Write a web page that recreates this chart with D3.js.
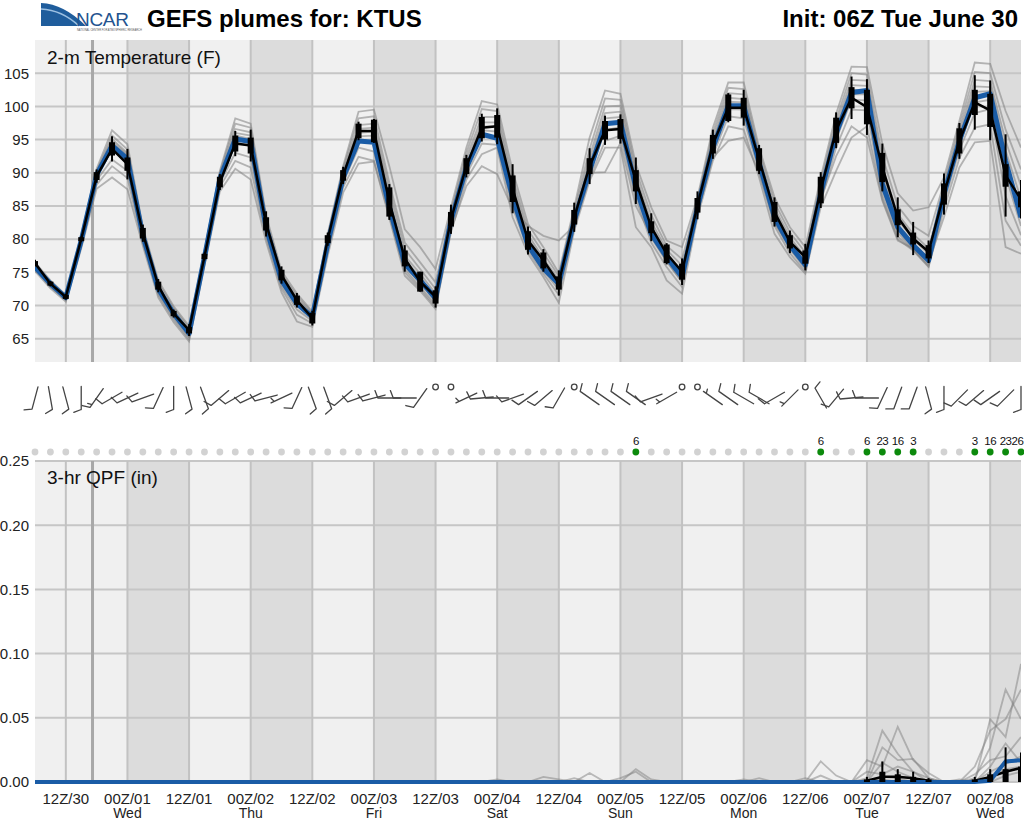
<!DOCTYPE html>
<html>
<head>
<meta charset="utf-8">
<script src="https://cdn.jsdelivr.net/npm/d3@7"></script>
<style>
body { margin: 0; background: #fff; font-family: "Liberation Sans", Arial, sans-serif; }
svg { display: block; }
</style>
</head>
<body>
<script>
// forecast hours, every 3 h from init (06Z Tue June 30)
var hours = d3.range(0, 193, 3);

// x axis labels (every 12 h starting 12Z/30) and day names under the 00Z ticks
var tickLabels = ["12Z/30","00Z/01","12Z/01","00Z/02","12Z/02","00Z/03","12Z/03","00Z/04",
                  "12Z/04","00Z/05","12Z/05","00Z/06","12Z/06","00Z/07","12Z/07","00Z/08"];
var dayNames = ["Wed","Thu","Fri","Sat","Sun","Mon","Tue","Wed"];
var tempTicks = [65,70,75,80,85,90,95,100,105];
var qpfTicks = [0,0.05,0.10,0.15,0.20,0.25];
var nowHour = 11.2;

// 2-m temperature: ensemble mean (blue) and median (black) with box/whisker half-ranges
var tempMean = [75.8,73.3,71.2,79.8,89.7,94.1,92.1,80.6,72.5,68.8,65.8,
  77.3,89.1,95.1,94.7,81.8,73.8,70.3,68.3,
  79.3,89.3,94.8,94.6,84.8,76.3,73.8,71.1,
  82.8,90.8,95.8,95.2,86.3,79.1,75.6,73.3,
  82.8,90.3,97.4,97.6,87.8,80.8,77.3,74.3,
  84.8,93.8,100.1,100.1,91.5,83.3,79.1,76.1,
  86.9,95.9,102.1,102.4,88.3,81.8,79.1,76.8,
  86.8,94.8,101.3,101.9,91.8,83.3];
var tempMedian = [76.4,73.3,71.3,80.0,89.5,93.6,91.3,80.9,73.0,68.8,66.3,
  77.4,88.6,94.4,94.1,82.3,74.6,70.8,68.1,
  80.0,89.6,96.3,96.3,85.6,77.1,73.6,71.3,
  83.0,91.0,96.8,97.0,87.6,79.8,76.8,73.4,
  83.3,91.0,96.4,96.6,88.8,81.8,77.8,75.1,
  85.1,94.3,99.8,99.8,92.0,84.1,79.6,77.3,
  87.4,96.4,101.3,99.9,90.8,83.3,80.1,78.1,
  86.8,94.8,100.6,99.4,89.6,86.0];
var tempBoxHalf = [0.3,0.3,0.3,0.3,0.6,1.0,1.0,0.8,0.6,0.4,0.5,
  0.4,0.8,1.2,1.2,1.0,0.8,0.7,0.8,
  0.6,0.8,1.1,1.7,2.2,1.2,1.5,1.0,
  1.1,1.2,1.6,1.7,2.0,1.4,1.2,1.0,
  1.1,1.2,1.4,1.5,1.6,0.9,1.4,1.2,
  1.1,1.4,2.0,1.5,1.7,1.5,1.0,1.0,
  2.0,1.9,1.6,2.6,2.2,1.2,0.9,1.0,
  1.6,1.9,1.9,2.5,1.7,1.2];
var tempWhiskHalf = [0.5,0.4,0.4,0.4,1.0,1.9,2.3,1.3,1.0,0.6,0.9,
  0.6,1.2,1.9,2.4,1.9,1.3,1.1,1.1,
  1.0,1.3,1.4,1.8,2.7,2.0,1.5,1.6,
  2.2,1.7,2.1,2.7,3.7,2.1,1.7,1.9,
  2.2,2.7,2.2,2.2,3.5,2.1,1.6,2.0,
  2.1,2.2,2.2,2.7,2.2,2.2,1.7,2.0,
  2.7,2.7,3.2,4.2,3.6,3.0,2.5,1.7,
  3.1,2.7,4.1,4.5,6.2,2.9];

// individual ensemble members (grey plumes)
var tempMemA = [76.5,73.8,71.6,80.6,90.6,96.4,94.3,81.8,73.8,69.9,66.9,
  78.2,90.3,98.2,97.4,83.6,75.2,71.8,69.1,
  80.8,91.0,99.2,99.5,91.0,81.5,78.8,75.5,
  84.8,93.8,100.8,100.3,90.3,82.3,78.8,74.9,
  84.8,95.3,102.4,101.9,91.3,84.8,79.8,78.8,
  86.3,96.8,103.6,103.6,93.8,86.3,81.8,78.8,
  89.3,98.9,106.0,105.9,94.4,86.9,84.3,84.8,
  89.3,97.8,106.6,106.4,99.3,93.8];
var tempMemB = [76.2,73.6,71.5,80.3,90.3,95.6,93.5,81.4,73.4,69.6,66.6,
  78.0,90.0,97.4,96.8,83.1,74.8,71.4,68.9,
  80.5,90.6,98.2,98.5,88.5,79.5,76.5,73.5,
  84.2,93.0,99.6,99.3,89.2,81.4,77.9,74.4,
  84.3,93.6,101.2,101.0,90.4,83.6,79.0,77.0,
  85.9,96.0,102.8,102.6,93.2,85.5,81.0,78.0,
  88.6,98.0,105.0,104.8,92.5,85.0,82.0,80.5,
  88.5,97.0,105.2,105.0,96.5,90.5];
var tempMemC = [76.0,73.5,71.3,80.1,90.1,95.1,93.0,81.1,73.0,69.2,66.3,
  77.7,89.7,96.6,96.1,82.6,74.4,71.0,68.7,
  80.1,90.2,97.2,97.4,87.5,78.5,75.5,72.5,
  83.7,92.3,98.4,98.4,88.3,80.7,77.1,73.9,
  83.8,92.5,100.0,100.1,89.6,82.6,78.4,76.0,
  85.6,95.3,102.0,101.8,92.6,84.7,80.3,77.3,
  88.0,97.3,104.0,103.9,91.0,83.8,80.8,78.6,
  87.9,96.3,104.0,103.8,94.8,88.0];
var tempMemD = [75.9,73.3,71.2,79.9,89.9,94.8,92.8,80.9,72.8,69.0,66.1,
  77.5,89.4,96.0,95.6,82.2,74.1,70.7,68.5,
  79.8,89.9,96.6,96.8,86.5,77.5,74.8,71.8,
  83.3,91.7,97.6,97.6,87.6,80.1,76.6,73.5,
  83.4,91.7,99.0,99.2,88.9,81.9,77.9,75.2,
  85.3,94.7,101.3,101.1,92.1,84.1,79.8,76.8,
  87.5,96.7,103.2,103.1,89.8,82.9,80.0,77.8,
  87.4,95.7,103.0,102.9,93.4,86.0];
var tempMemE = [75.8,73.2,71.1,79.7,89.8,94.5,92.6,80.7,72.6,68.9,65.9,
  77.3,89.2,95.6,95.1,81.9,73.9,70.5,68.4,
  79.5,89.6,96.0,96.2,85.8,77.0,74.2,71.3,
  83.0,91.2,97.0,97.0,87.0,79.6,76.1,73.2,
  83.0,91.0,98.2,98.4,88.4,81.3,77.5,74.6,
  85.0,94.2,100.7,100.6,91.7,83.6,79.4,76.3,
  87.1,96.2,102.5,102.4,89.0,82.2,79.4,77.1,
  87.0,95.2,102.2,102.3,92.0,84.5];
var tempMemF = [75.7,73.4,71.4,80.0,89.6,94.3,92.0,80.5,72.4,68.7,65.7,
  77.2,89.0,95.2,94.8,81.7,73.7,70.3,68.2,
  79.3,89.3,95.5,95.6,85.0,76.6,73.8,71.0,
  82.7,90.8,96.4,96.2,86.4,79.2,75.7,72.9,
  82.6,90.4,97.4,97.7,87.8,80.8,77.1,74.2,
  84.7,93.8,100.2,100.2,91.3,83.1,79.0,75.9,
  86.7,95.7,101.8,101.8,88.2,81.6,78.9,76.6,
  86.6,94.8,101.5,101.8,90.8,83.3];
var tempMemG = [75.6,73.1,71.0,79.5,89.3,93.5,91.5,80.2,72.2,68.5,65.5,
  77.0,88.8,94.6,94.0,81.3,73.4,70.0,68.0,
  79.0,89.0,94.8,94.6,84.4,76.0,73.3,70.6,
  82.3,90.3,95.6,95.3,85.8,78.8,75.2,72.4,
  82.2,89.8,96.4,96.9,87.1,80.2,76.6,73.6,
  84.3,93.2,99.6,99.5,90.8,82.6,78.5,75.5,
  86.2,95.0,101.0,100.9,87.4,81.0,78.5,76.1,
  86.1,94.2,100.6,101.0,89.6,82.0];
var tempMemH = [75.5,73.0,70.9,79.4,88.9,92.0,90.3,79.8,71.9,68.2,65.2,
  76.7,88.4,93.0,92.3,80.7,73.0,69.4,67.7,
  78.6,88.5,93.8,93.2,83.9,75.5,72.8,70.2,
  81.8,89.7,94.4,94.2,84.8,78.3,74.8,71.6,
  81.8,89.2,94.8,95.6,86.2,79.5,75.8,72.8,
  83.9,92.6,98.5,98.2,90.2,82.0,77.9,75.1,
  85.6,93.8,99.5,99.4,86.6,80.4,78.4,75.9,
  85.4,93.4,99.0,99.6,86.5,80.6];
var tempMemI = [75.4,72.8,70.8,79.0,88.2,91.0,89.2,79.4,71.6,67.9,64.9,
  76.4,87.9,91.8,90.8,80.2,72.6,68.6,67.3,
  78.1,87.8,92.4,91.8,83.5,75.0,72.5,69.8,
  81.0,89.0,92.8,93.8,83.3,77.8,74.3,70.4,
  81.3,88.8,93.8,93.8,81.8,78.8,73.8,71.8,
  83.3,91.8,97.0,96.5,89.3,80.8,77.3,74.8,
  84.8,90.3,95.3,97.0,86.0,80.0,78.3,75.8,
  84.5,92.2,96.8,97.3,82.8,79.0];
var tempMemJ = [75.2,72.6,70.6,78.6,87.6,89.3,87.5,79.0,71.2,67.5,64.6,
  76.0,87.2,90.6,89.0,79.6,72.0,67.6,66.8,
  77.5,87.0,91.4,91.7,83.2,74.5,72.2,69.5,
  81.3,88.0,91.0,89.8,84.5,82.0,80.5,79.8,
  82.0,90.0,90.1,94.5,85.0,80.5,76.8,73.5,
  84.0,92.3,94.8,95.3,90.0,82.4,78.8,76.0,
  86.0,92.5,97.0,95.3,85.8,79.8,78.6,76.5,
  83.3,90.8,94.6,94.8,78.8,77.8];
var tempMembers = [tempMemA,tempMemB,tempMemC,tempMemD,tempMemE,tempMemF,tempMemG,tempMemH,tempMemI,tempMemJ];

// wind barbs: direction (deg, from) and speed (kt); speed 0 = calm
var windDir = [195,170,165,180, 215,240,245,250, 205,180,165,160, 230,240,245,255,
  245,205,160,160, 230,250,255,270, 270,215,0,0, 245,265,270,250,
  235,230,210,0, 305,305,305,305, 250,240,0,0, 305,305,300,300,
  240,225,0,330, 220,265,270,205, 200,200,165,180, 225,230,235,225, 180];
var windSpd = [10,10,10,10, 15,10,10,10, 10,10,10,10, 10,10,10,10,
  5,10,10,10, 10,10,10,10, 10,10,0,0, 5,10,10,10,
  10,10,10,0, 10,10,10,10, 10,5,0,0, 5,10,10,10,
  10,5,0,10, 10,10,10,10, 10,10,10,10, 10,10,10,10, 10];

// probability of precipitation (%), shown above the dot row
var popPct = [0,0,0,0,0,0,0,0,0,0, 0,0,0,0,0,0,0,0,0,0, 0,0,0,0,0,0,0,0,0,0,
  0,0,0,0,0,0,0,0,0,6, 0,0,0,0,0,0,0,0,0,0, 0,6,0,0,6,23,16,3,0,0,
  0,3,16,23,26];

// 3-hr QPF (in)
var qpfMean = [0,0,0,0,0,0,0,0,0,0, 0,0,0,0,0,0,0,0,0,0, 0,0,0,0,0,0,0,0,0,0,
  0,0,0,0,0,0,0,0,0,0, 0,0,0,0,0,0,0,0,0,0, 0,0,0,0,0,0,0,0,0,0,
  0,0,0.001,0.016,0.017];
var qpfMedian = [0,0,0,0,0,0,0,0,0,0, 0,0,0,0,0,0,0,0,0,0, 0,0,0,0,0,0,0,0,0,0,
  0,0,0,0,0,0,0,0,0,0, 0,0,0,0,0,0,0,0,0,0, 0,0,0,0,0.001,0.004,0.004,0.003,0.001,0,
  0,0.001,0.004,0.008,0.011];
var qpfBoxHi = [0,0,0,0,0,0,0,0,0,0, 0,0,0,0,0,0,0,0,0,0, 0,0,0,0,0,0,0,0,0,0,
  0,0,0,0,0,0,0,0,0,0, 0,0,0,0,0,0,0,0,0,0, 0,0,0,0,0.002,0.008,0.006,0.004,0.002,0,
  0,0.002,0.006,0.010,0.012];
var qpfWhiskHi = [0,0,0,0,0,0,0,0,0,0, 0,0,0,0,0,0,0,0,0,0, 0,0,0,0,0,0,0,0,0,0,
  0,0,0,0,0,0,0,0,0,0, 0,0,0,0,0,0,0,0,0,0, 0,0,0,0,0.004,0.016,0.010,0.008,0.003,0,
  0,0.004,0.010,0.027,0.023];
var qpfMem1 = [0,0,0,0,0,0,0,0,0,0, 0,0,0,0,0,0,0,0,0,0, 0,0,0,0,0,0,0,0,0,0,
  0,0,0,0.004,0.002,0,0,0,0,0, 0,0,0,0,0,0,0,0,0,0, 0,0,0,0,0.003,0.040,0.022,0.008,0.003,0,
  0,0.003,0.027,0.072,0.049];
var qpfMem2 = [0,0,0,0,0,0,0,0,0,0, 0,0,0,0,0,0,0,0,0,0, 0,0,0,0,0,0,0,0,0,0,
  0,0,0,0,0,0,0.007,0,0,0.010, 0.002,0,0,0,0,0,0,0,0,0, 0,0,0,0,0.017,0.012,0.043,0.017,0.007,0,
  0,0,0.049,0.035,0.092];
var qpfMem3 = [0,0,0,0,0,0,0,0,0,0, 0,0,0,0,0,0,0,0,0,0, 0,0,0,0,0,0,0,0,0,0,
  0,0,0,0,0,0.003,0,0,0.003,0.008, 0,0,0,0,0,0,0,0,0,0, 0,0.016,0.005,0,0,0.027,0.017,0.018,0.003,0,
  0,0.012,0.040,0.049,0.072];
var qpfMem4 = [0,0,0,0,0,0,0,0,0,0, 0,0,0,0,0,0,0,0,0,0, 0,0,0,0,0,0,0,0,0,0,
  0,0,0,0,0,0,0,0,0,0, 0,0,0,0,0,0,0,0.003,0,0, 0,0.005,0,0,0.008,0.006,0.012,0.008,0,0,
  0,0.006,0.017,0.020,0.035];
var qpfMem5 = [0,0,0,0,0,0,0,0,0,0, 0,0,0,0,0,0,0,0,0,0, 0,0,0,0,0,0,0,0,0,0,
  0,0,0,0,0,0,0,0,0,0, 0,0,0,0,0,0,0,0,0,0, 0.003,0,0,0,0,0.015,0.008,0.003,0,0,
  0.002,0,0.008,0.014,0.020];
var qpfMem6 = [0,0,0,0,0,0,0,0,0,0, 0,0,0,0,0,0,0,0,0,0, 0,0,0,0,0,0,0,0,0,0,
  0,0,0,0,0,0,0,0,0,0, 0,0,0,0,0,0,0.002,0,0,0, 0,0,0,0,0,0.004,0.003,0,0,0,
  0,0,0.004,0.010,0.012];
var qpfMem7 = [0,0,0,0,0,0,0,0,0,0, 0,0,0,0,0,0,0,0,0,0, 0,0,0,0,0,0,0,0,0,0,
  0.002,0,0,0,0,0,0,0,0,0, 0,0,0,0,0,0,0,0,0,0, 0,0,0,0,0,0.002,0,0,0,0,
  0,0,0,0.005,0.008];
var qpfMem8 = [0,0,0,0,0,0,0,0,0,0, 0,0,0,0,0,0,0,0,0,0, 0,0,0,0,0,0,0,0,0,0,
  0,0,0,0,0,0,0,0,0,0, 0,0,0,0,0,0,0,0,0,0, 0,0,0,0,0,0,0,0,0,0,
  0,0,0.012,0.030,0.015];
var qpfMembers = [qpfMem1,qpfMem2,qpfMem3,qpfMem4,qpfMem5,qpfMem6,qpfMem7,qpfMem8];

// ---------------------------------------------------------------
var W = 1024, H = 823;
var tempTop = 40, tempBot = 362, qpfTop = 461, qpfBot = 782;

var x = d3.scaleLinear().domain([0, 192]).range([35, 1021]);
var yT = d3.scaleLinear().domain([61.5, 110]).range([tempBot, tempTop]);
var yQ = d3.scaleLinear().domain([0, 0.25]).range([qpfBot, qpfTop]);

var tickHours = tickLabels.map(function(d, i) { return 6 + 12 * i; });

var svg = d3.select("body").append("svg")
  .attr("width", W)
  .attr("height", H)
  .style("font-family", "'Liberation Sans', Arial, sans-serif");

var defs = svg.append("defs");
defs.append("clipPath").attr("id", "clipT").append("rect")
  .attr("x", x(0)).attr("y", tempTop).attr("width", x(192) - x(0)).attr("height", tempBot - tempTop);
defs.append("clipPath").attr("id", "clipQ").append("rect")
  .attr("x", x(0)).attr("y", qpfTop - 2).attr("width", x(192) - x(0)).attr("height", qpfBot - qpfTop + 5);

// header: logo + titles
var logo = svg.append("g");
logo.append("path")
  .attr("d", "M41,3 Q64,4 86,26 L41,26 Z")
  .attr("fill", "#1f5d9c");
logo.append("path")
  .attr("d", "M41,9 Q62,10 79,26")
  .attr("fill", "none").attr("stroke", "#9cc0e2").attr("stroke-width", 1.6);
logo.append("text")
  .attr("x", 76).attr("y", 26)
  .attr("font-size", "19px").attr("fill", "#24538f").attr("letter-spacing", "-0.3")
  .text("NCAR");
logo.append("text")
  .attr("x", 77).attr("y", 30.5)
  .attr("font-size", "2.6px").attr("fill", "#555")
  .text("NATIONAL CENTER FOR ATMOSPHERIC RESEARCH");

svg.append("text")
  .attr("x", 147).attr("y", 27)
  .attr("font-size", "24px").attr("font-weight", "bold")
  .text("GEFS plumes for: KTUS");
svg.append("text")
  .attr("x", 1018).attr("y", 27)
  .attr("text-anchor", "end")
  .attr("font-size", "24px").attr("font-weight", "bold")
  .text("Init: 06Z Tue June 30");

// panel background with alternating 12-h bands and grid
function drawPanel(top, bot, yScale, ticks) {
  var g = svg.append("g");
  g.append("rect")
    .attr("x", x(0)).attr("y", top)
    .attr("width", x(192) - x(0)).attr("height", bot - top)
    .attr("fill", "#f0f0f0");
  tickHours.forEach(function(h, i) {
    if (tickLabels[i].indexOf("00Z") === 0) {
      g.append("rect")
        .attr("x", x(h)).attr("y", top)
        .attr("width", x(Math.min(h + 12, 192)) - x(h)).attr("height", bot - top)
        .attr("fill", "#dcdcdc");
    }
  });
  g.selectAll(".hgrid")
    .data(ticks)
    .enter().append("line")
    .attr("x1", x(0)).attr("x2", x(192))
    .attr("y1", function(d) { return yScale(d); })
    .attr("y2", function(d) { return yScale(d); })
    .attr("stroke", "#c6c6c6").attr("stroke-width", 2);
  g.selectAll(".vgrid")
    .data(tickHours)
    .enter().append("line")
    .attr("x1", function(d) { return x(d); })
    .attr("x2", function(d) { return x(d); })
    .attr("y1", top).attr("y2", bot)
    .attr("stroke", "#c2c2c2").attr("stroke-width", 2);
  g.append("line")
    .attr("x1", x(nowHour)).attr("x2", x(nowHour))
    .attr("y1", top).attr("y2", bot)
    .attr("stroke", "#a8a8a8").attr("stroke-width", 3);
  return g;
}

drawPanel(tempTop, tempBot, yT, tempTicks);
drawPanel(qpfTop, qpfBot, yQ, qpfTicks);

// y axes
var axT = svg.append("g")
  .attr("transform", "translate(" + x(0) + ",0)")
  .call(d3.axisLeft(yT).tickValues(tempTicks).tickSize(0).tickPadding(6));
var axQ = svg.append("g")
  .attr("transform", "translate(" + x(0) + ",0)")
  .call(d3.axisLeft(yQ).tickValues(qpfTicks).tickSize(0).tickPadding(6).tickFormat(d3.format(".2f")));
[axT, axQ].forEach(function(a) {
  a.select(".domain").remove();
  a.selectAll("text")
    .attr("font-size", "15px")
    .attr("fill", "#222")
    .attr("font-family", "'Liberation Sans', Arial, sans-serif");
});

// panel titles
svg.append("text")
  .attr("x", 47).attr("y", 64)
  .attr("font-size", "19px").attr("fill", "#111")
  .text("2-m Temperature (F)");
svg.append("text")
  .attr("x", 47).attr("y", 484)
  .attr("font-size", "19px").attr("fill", "#111")
  .text("3-hr QPF (in)");

// temperature plumes
var gT = svg.append("g").attr("clip-path", "url(#clipT)");
var lineT = d3.line()
  .x(function(d, i) { return x(hours[i]); })
  .y(function(d) { return yT(d); });

gT.selectAll(".mem")
  .data(tempMembers)
  .enter().append("path")
  .attr("d", lineT)
  .attr("fill", "none")
  .attr("stroke", "#808080")
  .attr("stroke-opacity", 0.55)
  .attr("stroke-width", 1.8);

gT.append("path")
  .attr("d", lineT(tempMean))
  .attr("fill", "none")
  .attr("stroke", "#1a5ca6")
  .attr("stroke-width", 5)
  .attr("stroke-linejoin", "round");

gT.append("path")
  .attr("d", lineT(tempMedian))
  .attr("fill", "none")
  .attr("stroke", "#000")
  .attr("stroke-width", 2.5)
  .attr("stroke-linejoin", "round");

gT.selectAll(".whisk")
  .data(tempMedian)
  .enter().append("line")
  .attr("x1", function(d, i) { return x(hours[i]); })
  .attr("x2", function(d, i) { return x(hours[i]); })
  .attr("y1", function(d, i) { return yT(d + tempWhiskHalf[i]); })
  .attr("y2", function(d, i) { return yT(d - tempWhiskHalf[i]); })
  .attr("stroke", "#000").attr("stroke-width", 2);

gT.selectAll(".box")
  .data(tempMedian)
  .enter().append("rect")
  .attr("x", function(d, i) { return x(hours[i]) - 3; })
  .attr("width", 6)
  .attr("y", function(d, i) { return yT(d + tempBoxHalf[i]); })
  .attr("height", function(d, i) { return yT(d - tempBoxHalf[i]) - yT(d + tempBoxHalf[i]); })
  .attr("fill", "#000");

// QPF plumes
var gQ = svg.append("g").attr("clip-path", "url(#clipQ)");
var lineQ = d3.line()
  .x(function(d, i) { return x(hours[i]); })
  .y(function(d) { return yQ(d); });

gQ.selectAll(".mem")
  .data(qpfMembers)
  .enter().append("path")
  .attr("d", lineQ)
  .attr("fill", "none")
  .attr("stroke", "#808080")
  .attr("stroke-opacity", 0.5)
  .attr("stroke-width", 1.8);

gQ.append("path")
  .attr("d", lineQ(qpfMedian))
  .attr("fill", "none")
  .attr("stroke", "#000")
  .attr("stroke-width", 2.5);

gQ.append("path")
  .attr("d", lineQ(qpfMean))
  .attr("fill", "none")
  .attr("stroke", "#1a5ca6")
  .attr("stroke-width", 4);

var qIdx = hours.map(function(h, i) { return i; }).filter(function(i) { return qpfWhiskHi[i] > 0; });
gQ.selectAll(".qwhisk")
  .data(qIdx)
  .enter().append("line")
  .attr("x1", function(i) { return x(hours[i]); })
  .attr("x2", function(i) { return x(hours[i]); })
  .attr("y1", function(i) { return yQ(qpfWhiskHi[i]); })
  .attr("y2", yQ(0))
  .attr("stroke", "#000").attr("stroke-width", 2);
gQ.selectAll(".qbox")
  .data(qIdx)
  .enter().append("rect")
  .attr("x", function(i) { return x(hours[i]) - 3; })
  .attr("width", 6)
  .attr("y", function(i) { return yQ(qpfBoxHi[i]); })
  .attr("height", function(i) { return yQ(0) - yQ(qpfBoxHi[i]); })
  .attr("fill", "#000");

// wind barbs
var barbY = 398, staffLen = 23;
var gW = svg.append("g")
  .attr("stroke", "#444")
  .attr("stroke-width", 1.3)
  .attr("fill", "none")
  .attr("stroke-linecap", "round");

hours.forEach(function(h, i) {
  var cx = x(h);
  if (windSpd[i] === 0) {
    gW.append("circle").attr("cx", cx).attr("cy", 387).attr("r", 2.8);
    return;
  }
  var a = windDir[i] * Math.PI / 180;
  var ux = Math.sin(a), uy = -Math.cos(a);
  var rx = -uy, ry = ux;
  var x1 = cx - ux * staffLen / 2, y1 = barbY - uy * staffLen / 2;
  var x2 = cx + ux * staffLen / 2, y2 = barbY + uy * staffLen / 2;
  var d = "M" + x1 + "," + y1 + "L" + x2 + "," + y2;
  var tx = rx * 0.93 + ux * 0.36, ty = ry * 0.93 + uy * 0.36;
  var s = windSpd[i], k = 0;
  while (s >= 10) {
    var px = x2 - ux * k * 3.5, py = y2 - uy * k * 3.5;
    d += "M" + px + "," + py + "l" + (tx * 8) + "," + (ty * 8);
    s -= 10; k++;
  }
  if (s >= 5) {
    if (k === 0) k = 1;
    var qx = x2 - ux * k * 3.5, qy = y2 - uy * k * 3.5;
    d += "M" + qx + "," + qy + "l" + (tx * 4.5) + "," + (ty * 4.5);
  }
  gW.append("path").attr("d", d);
});

// precipitation probability dots
var dotY = 452;
var popData = popPct.map(function(p, i) { return {h: hours[i], p: p}; });
svg.selectAll(".pop")
  .data(popData)
  .enter().append("circle")
  .attr("cx", function(d) { return x(d.h); })
  .attr("cy", dotY)
  .attr("r", 3.4)
  .attr("fill", function(d) { return d.p > 0 ? "#0c8a0c" : "#d2d2d2"; });
svg.selectAll(".popLabel")
  .data(popData.filter(function(d) { return d.p > 0; }))
  .enter().append("text")
  .attr("x", function(d) { return Math.min(x(d.h), W - 6.5); })
  .attr("y", 445)
  .attr("text-anchor", "middle")
  .attr("font-size", "11.5px")
  .attr("letter-spacing", "-0.5")
  .attr("fill", "#111")
  .text(function(d) { return d.p; });

// bottom time axis
svg.selectAll(".xlab")
  .data(tickLabels)
  .enter().append("text")
  .attr("x", function(d, i) { return x(tickHours[i]); })
  .attr("y", 804)
  .attr("text-anchor", "middle")
  .attr("font-size", "15px")
  .attr("fill", "#222")
  .text(function(d) { return d; });

var dayHours = tickHours.filter(function(h, i) { return tickLabels[i].indexOf("00Z") === 0; });
svg.selectAll(".day")
  .data(dayNames)
  .enter().append("text")
  .attr("x", function(d, i) { return x(dayHours[i]); })
  .attr("y", 818)
  .attr("text-anchor", "middle")
  .attr("font-size", "14px")
  .attr("fill", "#222")
  .text(function(d) { return d; });
</script>
</body>
</html>
